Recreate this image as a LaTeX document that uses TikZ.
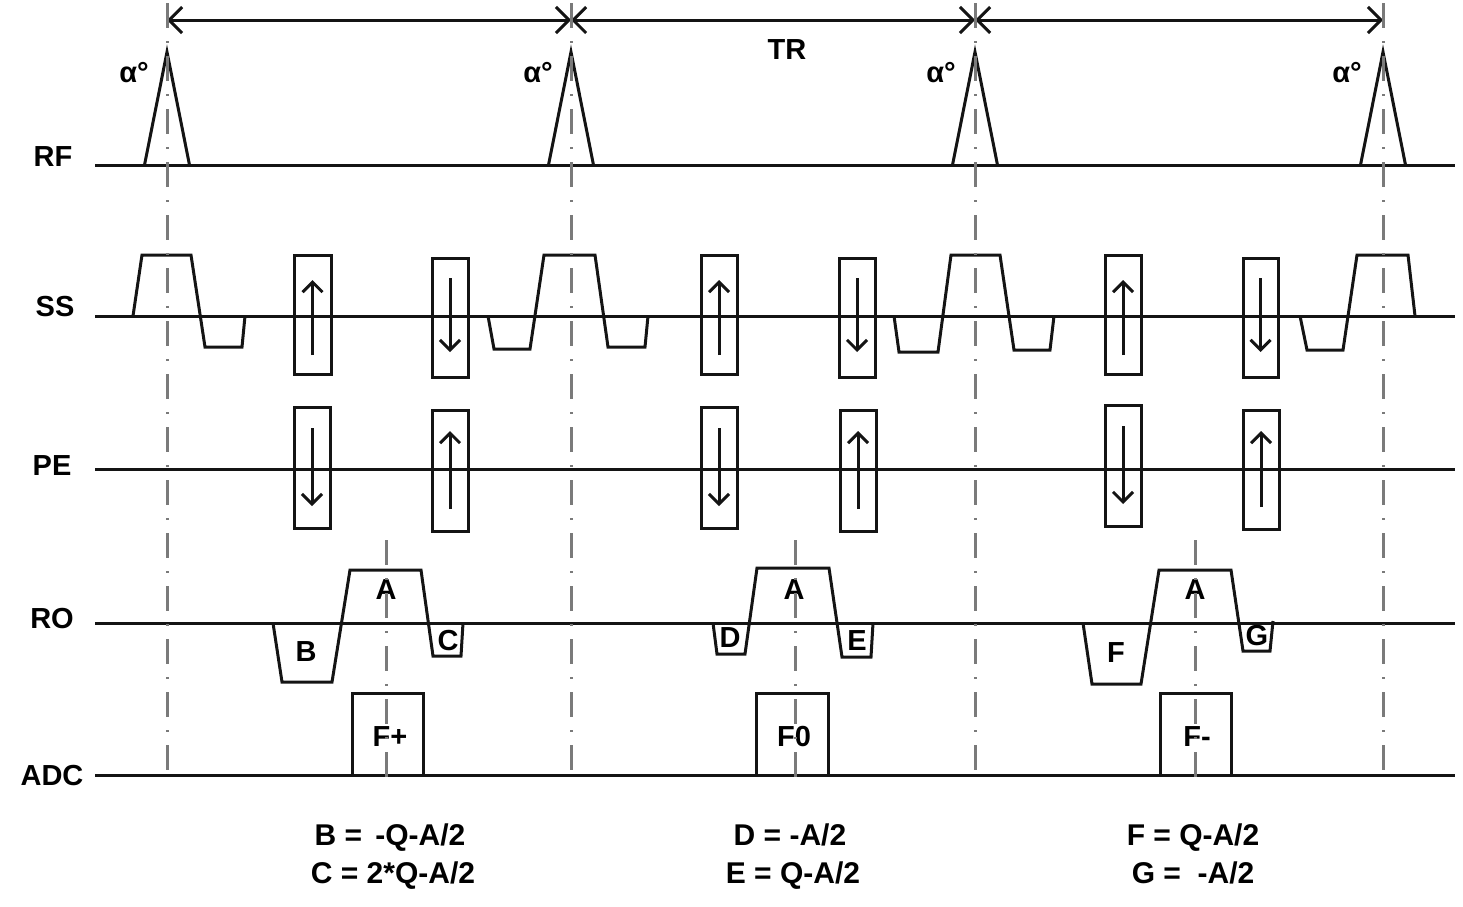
\documentclass[tikz,border=0pt]{standalone}
\usepackage{fontspec}
\setmainfont{Liberation Sans}
\usetikzlibrary{arrows.meta}
\begin{document}
\begin{tikzpicture}[x=1pt,y=-1pt,
  wave/.style={line width=3pt, black!92, line join=miter},
  guide/.style={line width=3pt, black!52, dash pattern=on 25pt off 13pt on 2pt off 13pt},
  lbl/.style={font=\bfseries\fontsize{29}{32}\selectfont, inner sep=0pt},
  flbl/.style={font=\bfseries\fontsize{30}{34}\selectfont, inner sep=0pt, anchor=base},
  tipped/.style={wave, -{Straight Barb[length=10pt,width=20pt]}},
  span/.style={wave, {Straight Barb[length=13pt,width=26pt]}-{Straight Barb[length=13pt,width=26pt]}}
  ]
\useasboundingbox (0,0) rectangle (1463,906);

% ---------- baselines and channel labels ----------
\foreach \n/\y in {RF/165, SS/316, PE/469, RO/623, ADC/775}{
  \coordinate (\n-a) at (95,\y);
  \coordinate (\n-b) at (1455,\y);
  \draw[wave] (\n-a) -- (\n-b);
}
\node[lbl] (lRF)  at (53,157) {RF};
\node[lbl] (lSS)  at (55,307) {SS};
\node[lbl] (lPE)  at (52,466) {PE};
\node[lbl] (lRO)  at (52,619) {RO};
\node[lbl] (lADC) at (52,775) {ADC};

% ---------- TR arrows ----------
\coordinate (t1) at (167,20);
\coordinate (t2) at (571,20);
\coordinate (t3) at (975,20);
\coordinate (t4) at (1383,20);
\draw[span] (t1) -- (t2);
\draw[span] (t2) -- (t3);
\draw[span] (t3) -- (t4);
\node[lbl] (TR) at (787,50) {TR};

% ---------- RF pulses ----------
\foreach \x in {167,571,975,1383}{
  \draw[wave] (\x-22.5,165) -- (\x,52) -- (\x+22.5,165);
}
\node[lbl] (al1) at (134,73) {α°};
\node[lbl] (al2) at (538,73) {α°};
\node[lbl] (al3) at (941,73) {α°};
\node[lbl] (al4) at (1347,73) {α°};

% ---------- SS gradients ----------
\draw[wave] (133,316) -- (142,255) -- (191,255) -- (205,347) -- (242,347) -- (245,316);
\draw[wave] (488,316) -- (494,349) -- (530,349) -- (544,255) -- (595,255) -- (608,347) -- (645,347) -- (648,316);
\draw[wave] (894,316) -- (899,352) -- (938,352) -- (951,255) -- (1000,255) -- (1014,350) -- (1050,350) -- (1054,316);
\draw[wave] (1300,316) -- (1307,350) -- (1343,350) -- (1357,255) -- (1408,255) -- (1415,316);

% SS phase boxes
\foreach \xa/\xb in {294/331, 701/737, 1105/1141}{
  \draw[wave] (\xa,255) rectangle (\xb,374);
  \draw[tipped] ({(\xa+\xb)/2},355) -- ({(\xa+\xb)/2},280);
}
\foreach \xa/\xb in {432/468, 839/875, 1243/1278}{
  \draw[wave] (\xa,258) rectangle (\xb,377);
  \draw[tipped] ({(\xa+\xb)/2},278) -- ({(\xa+\xb)/2},352);
}

% ---------- PE boxes ----------
\foreach \xa/\xb/\ya/\yb in {294/330/407/528, 701/737/407/528, 1105/1141/405/526}{
  \draw[wave] (\xa,\ya) rectangle (\xb,\yb);
  \draw[tipped] ({(\xa+\xb)/2},\ya+21) -- ({(\xa+\xb)/2},\yb-22);
}
\foreach \xa/\xb/\ya/\yb in {432/468/410/531, 840/876/410/531, 1243/1279/410/529}{
  \draw[wave] (\xa,\ya) rectangle (\xb,\yb);
  \draw[tipped] ({(\xa+\xb)/2},\yb-22) -- ({(\xa+\xb)/2},\ya+21);
}

% ---------- RO gradients ----------
\draw[wave] (273,623) -- (282,682) -- (332,682) -- (350,570) -- (421,570) -- (433,656) -- (461,656) -- (463,623);
\draw[wave] (713,623) -- (717,654) -- (745,654) -- (757,568) -- (829,568) -- (842,657) -- (871,657) -- (873,623);
\draw[wave] (1083,623) -- (1092,684) -- (1141,684) -- (1159,570) -- (1231,570) -- (1243,651) -- (1270,651) -- (1273,621);
\node[lbl] (A1) at (386,590) {A};
\node[lbl] (B)  at (306,652) {B};
\node[lbl] (C)  at (448,641) {C};
\node[lbl] (D)  at (730,638) {D};
\node[lbl] (A2) at (794,590) {A};
\node[lbl] (E)  at (857,641) {E};
\node[lbl] (A3) at (1195,590) {A};
\node[lbl] (F)  at (1116,653) {F};
\node[lbl] (G)  at (1257,636) {G};

% ---------- ADC windows ----------
\draw[wave] (352,775) -- (352,693) -- (423,693) -- (423,775);
\draw[wave] (756,775) -- (756,693) -- (828,693) -- (828,775);
\draw[wave] (1160,775) -- (1160,693) -- (1231,693) -- (1231,775);
\node[lbl] (Fp) at (390,737) {F+};
\node[lbl] (F0) at (794,737) {F0};
\node[lbl] (Fm) at (1197,737) {F-};

% ---------- guide lines ----------
\foreach \x in {167,571,975,1383}{
  \draw[guide] (\x,3) -- (\x,778);
}
\foreach \x in {386,795,1195}{
  \draw[guide] (\x,540) -- (\x,778);
}

% ---------- formulas ----------
\node[flbl] (fB) at (390,845) {B = \,-Q-A/2};
\node[flbl] (fC) at (393,883) {C = 2*Q-A/2};
\node[flbl] (fD) at (790,845) {D = -A/2};
\node[flbl] (fE) at (793,883) {E = Q-A/2};
\node[flbl] (fF) at (1193,845) {F = Q-A/2};
\node[flbl] (fG) at (1193,883) {G = \ -A/2};
\end{tikzpicture}
\end{document}
